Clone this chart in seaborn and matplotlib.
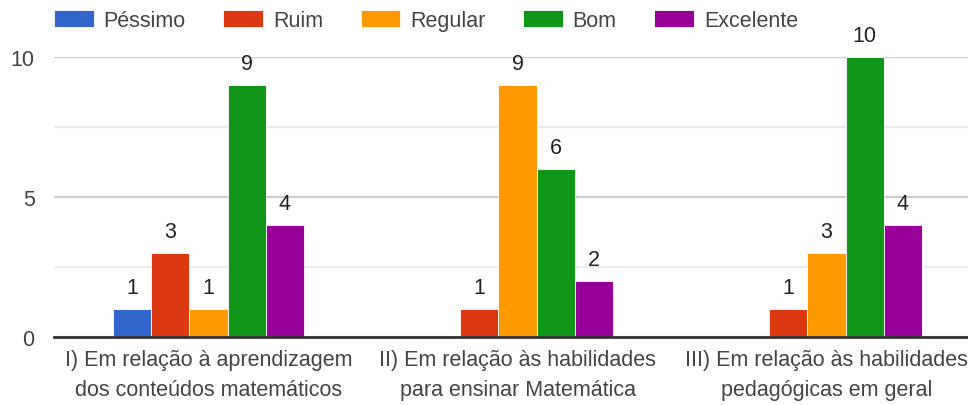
import pandas as pd
import matplotlib.pyplot as plt
import seaborn as sns

grupos = ['I) Em relação à aprendizagem\ndos conteúdos matemáticos',
          'II) Em relação às habilidades\npara ensinar Matemática',
          'III) Em relação às habilidades\npedagógicas em geral']
niveis = ['Péssimo', 'Ruim', 'Regular', 'Bom', 'Excelente']
pessimo = [1, 0, 0]
ruim = [3, 1, 1]
regular = [1, 9, 3]
bom = [9, 6, 10]
excelente = [4, 2, 4]
cores = ['#3366cc', '#dc3912', '#ff9900', '#109618', '#990099']

rows = []
for nivel, vals in zip(niveis, [pessimo, ruim, regular, bom, excelente]):
    for g, v in zip(grupos, vals):
        rows.append({'grupo': g, 'nivel': nivel, 'n': v})
data = pd.DataFrame(rows)

sns.set_style('white')
plt.rcParams['font.family'] = ['Liberation Sans', 'DejaVu Sans']

fig = plt.figure(figsize=(9.68, 4.06), dpi=100)
ax = fig.add_axes([54 / 968, 68 / 406, 927 / 968, 280 / 406])

sns.barplot(data=data, x='grupo', y='n', hue='nivel', palette=cores,
            width=0.615, gap=0, edgecolor='white', linewidth=0.6,
            saturation=1, ax=ax, zorder=3)

ax.set_xlim(-0.5, 2.5)
ax.set_ylim(0, 10)
ax.set_yticks([0, 5, 10])
ax.set_yticks([2.5, 7.5], minor=True)
ax.grid(axis='y', which='major', color='#cccccc', linewidth=1.6, zorder=0)
ax.grid(axis='y', which='minor', color='#ebebeb', linewidth=1.6, zorder=0)
ax.tick_params(axis='y', which='both', length=0, labelsize=15.5, colors='#444444', pad=14)
ax.tick_params(axis='x', length=0, labelsize=15.5, colors='#444444', pad=9)
for lab in ax.get_xticklabels():
    lab.set_linespacing(1.55)
for sp in ['top', 'right', 'left']:
    ax.spines[sp].set_visible(False)
ax.spines['bottom'].set_color('#333333')
ax.spines['bottom'].set_linewidth(2)
ax.spines['bottom'].set_zorder(5)
ax.set_xlabel('')
ax.set_ylabel('')

for cont in ax.containers:
    labels = [str(int(b.get_height())) if b.get_height() > 0 else '' for b in cont]
    ax.bar_label(cont, labels=labels, padding=8, fontsize=15.5, color='#222222', clip_on=False)

ax.legend(loc='center left', bbox_to_anchor=(0.0, 1.13), ncol=5, frameon=False,
          fontsize=15.5, handlelength=1.85, handleheight=0.85, handletextpad=0.45,
          columnspacing=1.75, labelcolor='#444444', borderaxespad=0, borderpad=0)

plt.savefig('out.png', dpi=100)
